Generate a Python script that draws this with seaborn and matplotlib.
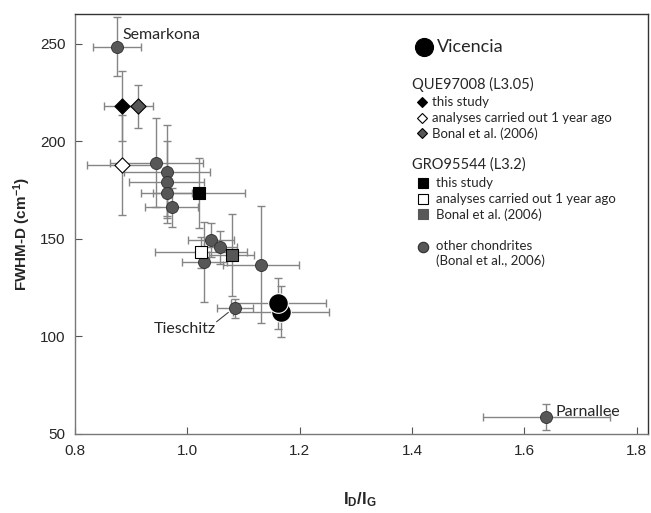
import matplotlib
matplotlib.use("Agg")
import matplotlib.pyplot as plt
import seaborn as sns
import pandas as pd

# Other chondrites (Bonal et al., 2006)
other_names = ["Semarkona", "", "", "", "", "", "", "", "", "", "Tieschitz", "Parnallee"]
other_x = [0.875, 0.945, 0.964, 0.963, 0.963, 0.972, 1.042, 1.059, 1.030, 1.131, 1.085, 1.639]
other_y = [248.4, 189.0, 184.4, 179.3, 173.6, 166.1, 149.2, 145.6, 138.3, 136.7, 114.4, 58.8]
other_xerr = [0.043, 0.083, 0.076, 0.066, 0.046, 0.047, 0.041, 0.030, 0.040, 0.068, 0.032, 0.113]
other_yerr = [15, 22.7, 24, 21, 12, 10, 8.7, 8.5, 20.5, 30, 5, 6.6]

# QUE97008 (L3.05): this study, analyses 1 year ago, Bonal et al. (2006)
que_x = [0.884, 0.884, 0.912]
que_y = [218.0, 187.8, 218.0]
que_xerr = [0.033, 0.062, 0.026]
que_yerr = [18, 25.6, 11]

# GRO95544 (L3.2): this study, analyses 1 year ago, Bonal et al. (2006)
gro_x = [1.020, 1.025, 1.079]
gro_y = [173.3, 143.1, 141.5]
gro_xerr = [0.082, 0.082, 0.040]
gro_yerr = [18, 8, 21]

# Vicencia
vic_x = [1.162, 1.167]
vic_y = [117.0, 112.7]
vic_xerr = [0.085, 0.085]
vic_yerr = [13, 13]

x_ticks = [0.8, 1.0, 1.2, 1.4, 1.6, 1.8]
y_ticks = [50, 100, 150, 200, 250]

sns.set_style("ticks")
plt.rcParams["font.family"] = ["Liberation Sans", "DejaVu Sans"]
plt.rcParams["mathtext.fontset"] = "custom"
plt.rcParams["mathtext.rm"] = "Liberation Sans"
plt.rcParams["mathtext.bf"] = "Liberation Sans:bold"
plt.rcParams["mathtext.it"] = "Liberation Sans:italic"

TXT = ["Lato", "DejaVu Sans"]
GRAY = "#575757"
EDGE = "#2e2e2e"
ERR = "#858585"

fig = plt.figure(figsize=(6.51, 5.13), dpi=100)
ax = fig.add_axes([75 / 651, 1 - 434 / 513, 573 / 651, 419.7 / 513])

err_kw = dict(fmt="none", ecolor=ERR, elinewidth=1.0, capsize=3, capthick=1.0, zorder=1)
ax.errorbar(other_x, other_y, xerr=other_xerr, yerr=other_yerr, **err_kw)
ax.errorbar(que_x, que_y, xerr=que_xerr, yerr=que_yerr, **err_kw)
ax.errorbar(gro_x, gro_y, xerr=gro_xerr, yerr=gro_yerr, **err_kw)
ax.errorbar(vic_x, vic_y, xerr=vic_xerr, yerr=vic_yerr, **err_kw)

other_df = pd.DataFrame({"x": other_x, "y": other_y})
sns.scatterplot(data=other_df, x="x", y="y", ax=ax, s=75, color=GRAY,
                edgecolor=EDGE, linewidth=0.6, marker="o", zorder=3, legend=False)

que_fill = ["black", "white", GRAY]
gro_fill = ["black", "white", GRAY]
for i in range(3):
    sns.scatterplot(x=[que_x[i]], y=[que_y[i]], ax=ax, s=60, marker="D",
                    color=que_fill[i], edgecolor="black", linewidth=0.8, zorder=4, legend=False)
    sns.scatterplot(x=[gro_x[i]], y=[gro_y[i]], ax=ax, s=75, marker="s",
                    color=gro_fill[i], edgecolor="black", linewidth=0.8, zorder=4, legend=False)

vic_df = pd.DataFrame({"x": vic_x, "y": vic_y})
sns.scatterplot(data=vic_df.iloc[::-1], x="x", y="y", ax=ax, s=200, color="black",
                edgecolor="white", linewidth=0.8, marker="o", zorder=5, legend=False)

# Meteorite name labels
ax.text(0.885, 254.5, other_names[0], family=TXT, fontsize=11.5, ha="left", va="center")
ax.text(1.051, 104.0, other_names[10], family=TXT, fontsize=11.5, ha="right", va="center")
ax.plot([1.052, 1.073], [107.5, 112.3], color="#444444", lw=0.8, zorder=2)
ax.text(1.656, 61.5, other_names[11], family=TXT, fontsize=11.5, ha="left", va="center")

# Axes styling
ax.set_xlim(0.8, 1.82)
ax.set_ylim(50, 265)
ax.set_xticks(x_ticks)
ax.set_yticks(y_ticks)
ax.set_xticklabels([f"{t:.1f}" for t in x_ticks])
ax.set_yticklabels([str(t) for t in y_ticks])
ax.tick_params(direction="in", length=5, width=0.8, color="#555555", labelsize=11, pad=7)
for s in ax.spines.values():
    s.set_visible(True)
    s.set_color("#333333")
    s.set_linewidth(1.0)
ax.spines["left"].set_color("#777777")
ax.spines["bottom"].set_color("#777777")
ax.set_xlabel("")
ax.set_ylabel("")
fig.text(360 / 651, 1 - 500 / 513, r"$\mathbf{I_D/I_G}$", ha="center", va="center", fontsize=12)
fig.text(22 / 651, 1 - 234 / 513, r"FWHM-D (cm$^{\mathbf{-1}}$)", rotation=90,
         ha="center", va="center", fontsize=11, fontweight="bold")

# Key
T = ax.transAxes
def key_marker(fx, fy, marker, face, size, edge="black"):
    ax.plot([fx], [fy], marker=marker, markersize=size, markerfacecolor=face,
            markeredgecolor=edge, markeredgewidth=0.8, transform=T, clip_on=False, ls="none")

def key_text(fx, fy, s, size=9.5):
    ax.text(fx, fy, s, transform=T, family=TXT, fontsize=size, ha="left", va="center")

key_marker(0.609, 0.923, "o", "black", 13)
key_text(0.632, 0.921, "Vicencia", 13)
key_text(0.589, 0.834, "QUE97008 (L3.05)", 10.5)
key_marker(0.606, 0.792, "D", "black", 5.5)
key_text(0.623, 0.792, "this study")
key_marker(0.606, 0.754, "D", "white", 5.5)
key_text(0.623, 0.754, "analyses carried out 1 year ago")
key_marker(0.606, 0.716, "D", GRAY, 5.5)
key_text(0.623, 0.716, "Bonal et al. (2006)")
key_text(0.589, 0.641, "GRO95544 (L3.2)", 10.5)
key_marker(0.607, 0.597, "s", "black", 6.5)
key_text(0.630, 0.597, "this study")
key_marker(0.607, 0.560, "s", "white", 6.5)
key_text(0.630, 0.560, "analyses carried out 1 year ago")
key_marker(0.607, 0.523, "s", GRAY, 6.5, edge=GRAY)
key_text(0.630, 0.523, "Bonal et al. (2006)")
key_marker(0.607, 0.446, "o", GRAY, 7.5, edge=EDGE)
key_text(0.630, 0.448, "other chondrites")
key_text(0.630, 0.413, "(Bonal et al., 2006)")

fig.savefig("out.png", dpi=100)
